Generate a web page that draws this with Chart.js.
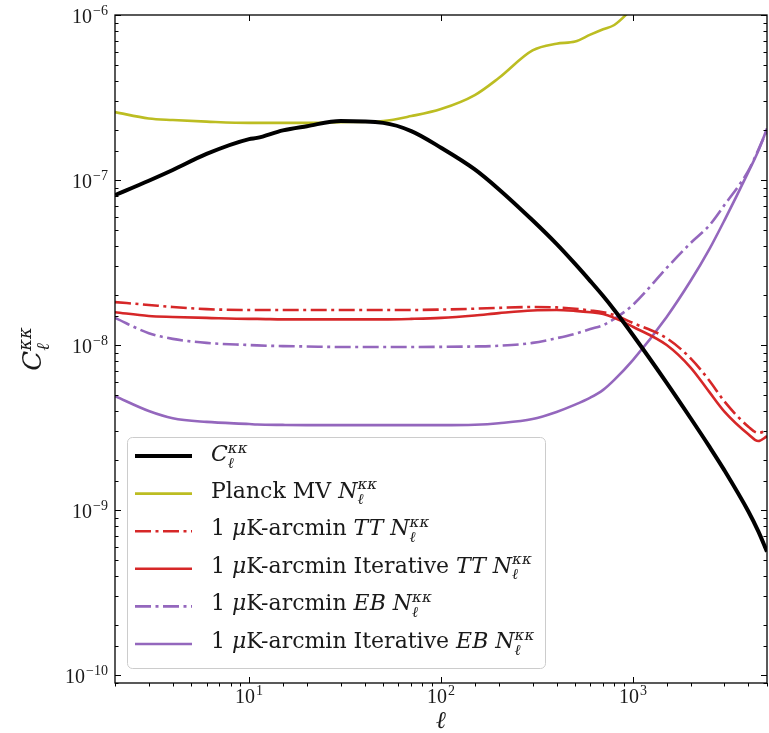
<!DOCTYPE html>
<html>
<head>
<meta charset="utf-8">
<script src="https://cdn.jsdelivr.net/npm/chart.js@4.4.1/dist/chart.umd.min.js"></script>
<style>
    html, body { margin: 0; padding: 0; background: #fff; }
    canvas { display: block; }
</style>
</head>
<body>
<canvas id="kappa-chart" width="769" height="733"></canvas>
<script>
const ell = [2, 3, 4, 6, 10, 11, 15, 20, 30, 50, 70, 100, 150, 200, 300, 400, 500, 600, 700, 800, 1000, 1500, 2000, 2500, 3000, 4000, 4500, 5000];

// lensing convergence power spectrum C_l^kk
const clkk = [8.1e-8, 9.9e-8, 1.15e-7, 1.44e-7, 1.77e-7, 1.80e-7, 2.0e-7, 2.12e-7, 2.28e-7, 2.22e-7, 1.98e-7, 1.57e-7, 1.16e-7, 8.8e-8, 5.7e-8, 4.1e-8, 3.1e-8, 2.44e-8, 1.98e-8, 1.63e-8, 1.15e-8, 5.9e-9, 3.6e-9, 2.43e-9, 1.74e-9, 9.8e-10, 7.45e-10, 5.6e-10];

// reconstruction noise curves N_l^kk
const planckMV = [2.58e-7, 2.36e-7, 2.31e-7, 2.26e-7, 2.22e-7, 2.22e-7, 2.22e-7, 2.22e-7, 2.24e-7, 2.28e-7, 2.44e-7, 2.69e-7, 3.27e-7, 4.15e-7, 6.1e-7, 6.7e-7, 6.9e-7, 7.6e-7, 8.2e-7, 8.7e-7, 1.1e-6, null, null, null, null, null, null, null];
const ttNoise = [1.82e-8, 1.75e-8, 1.70e-8, 1.65e-8, 1.63e-8, 1.63e-8, 1.63e-8, 1.63e-8, 1.63e-8, 1.63e-8, 1.63e-8, 1.64e-8, 1.66e-8, 1.68e-8, 1.70e-8, 1.69e-8, 1.66e-8, 1.62e-8, 1.58e-8, 1.52e-8, 1.36e-8, 1.10e-8, 8.3e-9, 6.1e-9, 4.55e-9, 3.2e-9, 2.93e-9, 3.05e-9];
const ttIterNoise = [1.58e-8, 1.50e-8, 1.48e-8, 1.46e-8, 1.44e-8, 1.44e-8, 1.43e-8, 1.43e-8, 1.43e-8, 1.43e-8, 1.44e-8, 1.46e-8, 1.51e-8, 1.56e-8, 1.62e-8, 1.63e-8, 1.61e-8, 1.58e-8, 1.54e-8, 1.46e-8, 1.29e-8, 1.0e-8, 7.3e-9, 5.2e-9, 3.95e-9, 2.88e-9, 2.62e-9, 2.8e-9];
const ebNoise = [1.46e-8, 1.18e-8, 1.09e-8, 1.03e-8, 1.0e-8, 9.95e-9, 9.85e-9, 9.8e-9, 9.73e-9, 9.73e-9, 9.73e-9, 9.75e-9, 9.8e-9, 9.9e-9, 1.03e-8, 1.10e-8, 1.17e-8, 1.25e-8, 1.32e-8, 1.44e-8, 1.75e-8, 2.93e-8, 4.15e-8, 5.3e-8, 7.05e-8, 1.14e-7, 1.52e-7, 2.0e-7];
const ebIterNoise = [4.9e-9, 3.98e-9, 3.6e-9, 3.42e-9, 3.32e-9, 3.3e-9, 3.28e-9, 3.27e-9, 3.27e-9, 3.27e-9, 3.27e-9, 3.27e-9, 3.29e-9, 3.36e-9, 3.56e-9, 3.93e-9, 4.35e-9, 4.8e-9, 5.35e-9, 6.15e-9, 8.1e-9, 1.48e-8, 2.45e-8, 3.8e-8, 5.7e-8, 1.12e-7, 1.5e-7, 2.05e-7];

// axis ranges
const xRange = [2, 5000];
const yRange = [8.95e-11, 1e-6];

const SERIF = '"DejaVu Serif", serif';
const TICK_FONT = '"Liberation Serif", serif';
const DASHDOT = [16, 4.5, 3, 4.5];

function toPoints(values) {
    return ell.map((l, i) => ({ x: l, y: values[i] }));
}

function isPower(v) {
    const p = Math.log10(v);
    return Math.abs(p - Math.round(p)) < 1e-6;
}

// "10" with a raised exponent, anchored at x (right or center), y is the baseline
function drawPower(ctx, v, x, y, align) {
    const p = Math.round(Math.log10(v));
    const exp = (p < 0 ? '\u2212' : '') + Math.abs(p);
    ctx.font = '20px ' + TICK_FONT;
    const wb = ctx.measureText('10').width;
    ctx.font = '14px ' + TICK_FONT;
    const we = ctx.measureText(exp).width;
    const w = wb + 1 + we;
    const x0 = align === 'right' ? x - w : x - w / 2;
    ctx.font = '20px ' + TICK_FONT;
    ctx.fillText('10', x0, y);
    ctx.font = '14px ' + TICK_FONT;
    ctx.fillText(exp, x0 + wb + 1, y - 8);
}

// draws text pieces with italic / super / subscript parts, returns width
function drawRich(ctx, parts, x, y, size, measureOnly) {
    let cx = x;
    let supX = null;
    parts.forEach(p => {
        const small = p.sup || p.sub;
        const fs = small ? Math.round(size * 0.7) : size;
        ctx.font = (p.it ? 'italic ' : '') + fs + 'px ' + SERIF;
        const w = ctx.measureText(p.t).width;
        let px = cx;
        let dy = 0;
        if (p.sup) { dy = -size * 0.38; supX = cx; }
        if (p.sub) {
            dy = size * 0.3;
            if (supX !== null) px = supX;
        }
        if (!measureOnly) ctx.fillText(p.t, px, y + dy);
        cx = Math.max(cx, px + w);
        if (!p.sup) supX = null;
    });
    return cx - x;
}

const nPart = [{ t: 'N', it: 1 }, { t: '\u03BA\u03BA', it: 1, sup: 1 }, { t: '\u2113', it: 1, sub: 1 }];
const ukPart = [{ t: '1 ' }, { t: '\u03BC', it: 1 }, { t: 'K-arcmin ' }];

const legendTexts = [
    [{ t: 'C', it: 1 }, { t: '\u03BA\u03BA', it: 1, sup: 1 }, { t: '\u2113', it: 1, sub: 1 }],
    [{ t: 'Planck MV ' }].concat(nPart),
    ukPart.concat([{ t: 'TT', it: 1 }, { t: ' ' }], nPart),
    ukPart.concat([{ t: 'Iterative ' }, { t: 'TT', it: 1 }, { t: ' ' }], nPart),
    ukPart.concat([{ t: 'EB', it: 1 }, { t: ' ' }], nPart),
    ukPart.concat([{ t: 'Iterative ' }, { t: 'EB', it: 1 }, { t: ' ' }], nPart)
];

// frame, inward ticks, tick labels, y title and legend
const decor = {
    id: 'decor',
    afterDraw(chart) {
        const { ctx, chartArea: a, scales } = chart;
        ctx.save();

        ctx.strokeStyle = '#000';
        ctx.lineWidth = 1.3;
        ctx.strokeRect(a.left, a.top, a.right - a.left, a.bottom - a.top);

        ctx.lineWidth = 1;
        ctx.beginPath();
        scales.x.ticks.forEach(t => {
            const px = Math.round(scales.x.getPixelForValue(t.value)) + 0.5;
            if (isPower(t.value)) {
                ctx.moveTo(px, a.bottom); ctx.lineTo(px, a.bottom - 6);
                ctx.moveTo(px, a.top); ctx.lineTo(px, a.top + 6);
            } else {
                ctx.moveTo(px, a.bottom); ctx.lineTo(px, a.bottom + 3.5);
            }
        });
        scales.y.ticks.forEach(t => {
            const py = Math.round(scales.y.getPixelForValue(t.value)) + 0.5;
            const len = isPower(t.value) ? 6 : 3.5;
            ctx.moveTo(a.left, py); ctx.lineTo(a.left + len, py);
            ctx.moveTo(a.right, py); ctx.lineTo(a.right - len, py);
        });
        ctx.stroke();

        // tick labels
        ctx.fillStyle = '#1a1a1a';
        ctx.textBaseline = 'alphabetic';
        ctx.textAlign = 'left';
        scales.x.ticks.forEach(t => {
            if (isPower(t.value)) drawPower(ctx, t.value, scales.x.getPixelForValue(t.value), a.bottom + 20, 'center');
        });
        scales.y.ticks.forEach(t => {
            if (isPower(t.value)) drawPower(ctx, t.value, a.left - 7, scales.y.getPixelForValue(t.value) + 8, 'right');
        });

        // y axis title, rotated
        ctx.save();
        ctx.translate(a.left - 74, (a.top + a.bottom) / 2);
        ctx.rotate(-Math.PI / 2);
        const yTitle = legendTexts[0];
        const tw = drawRich(ctx, yTitle, 0, 0, 26, true);
        drawRich(ctx, yTitle, -tw / 2, 0, 26);
        ctx.restore();

        // legend
        const bx = a.left + 12, by = a.bottom - 246, bw = 418, bh = 231;
        ctx.beginPath();
        ctx.roundRect(bx + 0.5, by + 0.5, bw, bh, 5);
        ctx.fillStyle = 'rgba(255,255,255,0.8)';
        ctx.fill();
        ctx.strokeStyle = '#cccccc';
        ctx.lineWidth = 1;
        ctx.stroke();

        chart.data.datasets.forEach((ds, i) => {
            const ry = by + 19 + i * 37.6;
            ctx.beginPath();
            ctx.setLineDash(ds.borderDash || []);
            ctx.strokeStyle = ds.borderColor;
            ctx.lineWidth = ds.borderWidth;
            ctx.moveTo(bx + 8, ry);
            ctx.lineTo(bx + 65, ry);
            ctx.stroke();
            ctx.setLineDash([]);
            ctx.fillStyle = '#1a1a1a';
            drawRich(ctx, legendTexts[i], bx + 84, ry + (i === 0 ? 5 : 4), 22);
        });
        ctx.restore();
    }
};

const ctx = document.getElementById('kappa-chart').getContext('2d');
const kappaChart = new Chart(ctx, {
    type: 'line',
    data: {
        datasets: [
            { label: 'C_l^kk', data: toPoints(clkk), borderColor: '#000000', borderWidth: 4 },
            { label: 'Planck MV N_l^kk', data: toPoints(planckMV), borderColor: '#bcbd22', borderWidth: 2.6 },
            { label: '1 uK-arcmin TT N_l^kk', data: toPoints(ttNoise), borderColor: '#d62728', borderWidth: 2.6, borderDash: DASHDOT },
            { label: '1 uK-arcmin Iterative TT N_l^kk', data: toPoints(ttIterNoise), borderColor: '#d62728', borderWidth: 2.6 },
            { label: '1 uK-arcmin EB N_l^kk', data: toPoints(ebNoise), borderColor: '#9467bd', borderWidth: 2.6, borderDash: DASHDOT },
            { label: '1 uK-arcmin Iterative EB N_l^kk', data: toPoints(ebIterNoise), borderColor: '#9467bd', borderWidth: 2.6 }
        ]
    },
    options: {
        responsive: false,
        animation: false,
        devicePixelRatio: 1,
        layout: { padding: { top: 15, right: 2, left: 0, bottom: 0 } },
        elements: {
            point: { radius: 0, hoverRadius: 0 },
            line: { cubicInterpolationMode: 'monotone', fill: false }
        },
        datasets: { line: { clip: 0 } },
        plugins: {
            legend: { display: false },
            tooltip: { enabled: false }
        },
        scales: {
            x: {
                type: 'logarithmic',
                min: xRange[0],
                max: xRange[1],
                grid: { display: false, drawTicks: false },
                border: { display: false },
                ticks: { display: false, autoSkip: false },
                title: {
                    display: true, text: '\u2113', color: '#1a1a1a',
                    font: { family: SERIF, size: 24, style: 'italic' },
                    padding: { top: 0, bottom: -3 }
                },
                afterFit: s => { s.height = 50; }
            },
            y: {
                type: 'logarithmic',
                min: yRange[0],
                max: yRange[1],
                grid: { display: false, drawTicks: false },
                border: { display: false },
                ticks: { display: false, autoSkip: false },
                afterFit: s => { s.width = 115; }
            }
        }
    },
    plugins: [decor]
});
</script>
</body>
</html>
